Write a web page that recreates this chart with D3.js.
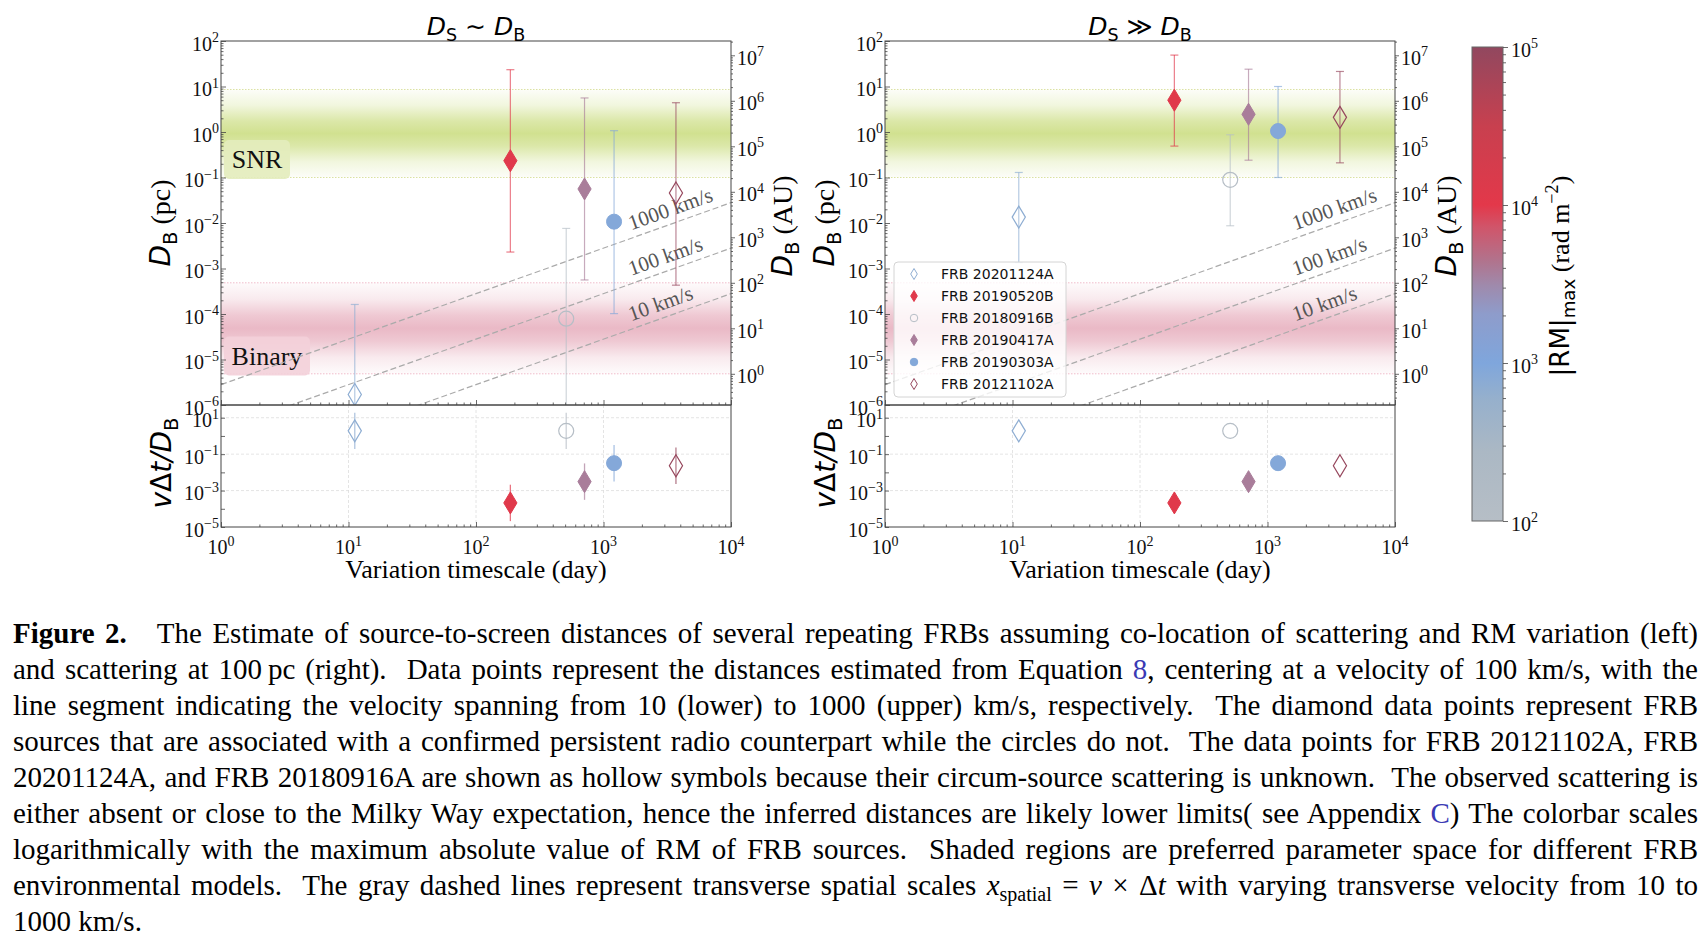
<!DOCTYPE html>
<html>
<head>
<meta charset="utf-8">
<script src="https://cdn.jsdelivr.net/npm/d3@7"></script>
<style>
body { margin: 0; background: #fff; width: 1707px; height: 942px; overflow: hidden; position: relative; }
#fig { position: absolute; left: 0; top: 0; }
#caption { position: absolute; left: 13px; top: 615px; width: 1685px; font-family: "Liberation Serif", "Times New Roman", serif; font-size: 29px; line-height: 36px; color: #000; }
#caption .cl { white-space: nowrap; }
#caption .gap { display: inline-block; width: 30px; }
#caption .lnk { color: #3a3ab4; }
#caption sub { font-size: 20px; line-height: 0; vertical-align: -6px; }
</style>
</head>
<body>
<svg id="fig" width="1707" height="600"></svg>
<div id="caption"></div>
<script>
// FRB sources, in legend order
const frbNames = ["FRB 20201124A", "FRB 20190520B", "FRB 20180916B", "FRB 20190417A", "FRB 20190303A", "FRB 20121102A"];
const frbMarker = ["diamond", "diamond", "circle", "diamond", "circle", "diamond"];
const frbHollow = [true, false, true, false, false, true];
const frbLogRM = [2.85, 4.05, 2.0, 3.58, 2.95, 4.95];     // log10 |RM|max, picks colour on the colorbar
const timescaleDays = [11.2, 186, 510, 710, 1210, 3700];

// D_S ~ D_B : D_B (pc) at 100 km/s, with 10 / 1000 km/s ends
const dbCoLocated   = [1.7e-6, 0.234, 7.9e-5, 0.056, 0.0107, 0.0457];
const dbCoLocatedLo = [1.7e-8, 2.3e-3, 7.9e-7, 5.6e-4, 1.02e-4, 4.3e-4];
const dbCoLocatedHi = [1.62e-4, 23.4, 7.6e-3, 5.6, 1.07, 4.4];

// D_S >> D_B
const dbFarScreen   = [0.0135, 5.0, 0.089, 2.45, 1.05, 2.1];
const dbFarScreenLo = [1.35e-3, 0.49, 8.7e-3, 0.24, 0.1, 0.21];
const dbFarScreenHi = [0.129, 49, 0.87, 24, 10, 21.4];

// v dt / D_B
const ratio   = [1.9, 2.1e-4, 1.9, 3.1e-3, 0.032, 0.023];
const ratioLo = [0.19, 2.1e-5, 0.19, 3.1e-4, 3.2e-3, 2.3e-3];
const ratioHi = [19, 2.1e-3, 19, 0.031, 0.32, 0.23];

// transverse scale lines x = v * dt (pc at 1 day and at 10^4 days)
const velocityLabels = ["10 km/s", "100 km/s", "1000 km/s"];
const velocityD1 = [2.8e-8, 2.8e-7, 2.8e-6];
const velocityD4 = [2.8e-4, 2.8e-3, 2.8e-2];

// shaded model regions (pc)
const bandNames = ["SNR", "Binary"];
const bandLo = [0.1, 4.85e-6];
const bandHi = [8.6, 4.85e-4];

// colorbar
const cmapLogRM = [2.0, 2.44, 2.77, 3.0, 3.31, 3.49, 3.64, 3.86, 4.0, 4.5, 5.0];
const cmapColors = ["#b6bec6", "#abb8c4", "#96b0cc", "#7fa6dc", "#8e9ccb", "#9f8aac", "#b0748e", "#d0556a", "#e3384a", "#c8404f", "#91485f"];

// tick exponents
const xTickExp = [0, 1, 2, 3, 4];
const dbTickExp = [-6, -5, -4, -3, -2, -1, 0, 1, 2];
const auTickExp = [0, 1, 2, 3, 4, 5, 6, 7];
const ratioTickExp = [-5, -3, -1, 1];
const ratioMajorExp = [-5, -4, -3, -2, -1, 0, 1];
const rmTickExp = [2, 3, 4, 5];
const PC_IN_AU = 206265;

const captionLines = [
  '<b>Figure 2.</b><span class="gap"></span>The Estimate of source-to-screen distances of several repeating FRBs assuming co-location of scattering and RM variation (left)',
  'and scattering at 100&#8201;pc (right).&nbsp; Data points represent the distances estimated from Equation <span class="lnk">8</span>, centering at a velocity of 100 km/s, with the',
  'line segment indicating the velocity spanning from 10 (lower) to 1000 (upper) km/s, respectively.&nbsp; The diamond data points represent FRB',
  'sources that are associated with a confirmed persistent radio counterpart while the circles do not.&nbsp; The data points for FRB 20121102A, FRB',
  '20201124A, and FRB 20180916A are shown as hollow symbols because their circum-source scattering is unknown.&nbsp; The observed scattering is',
  'either absent or close to the Milky Way expectation, hence the inferred distances are likely lower limits( see Appendix <span class="lnk">C</span>) The colorbar scales',
  'logarithmically with the maximum absolute value of RM of FRB sources.&nbsp; Shaded regions are preferred parameter space for different FRB',
  'environmental models.&nbsp; The gray dashed lines represent transverse spatial scales <i>x</i><sub>spatial</sub> = <i>v</i> &times; &Delta;<i>t</i> with varying transverse velocity from 10 to',
  '1000 km/s.'
];

const serif = "'Liberation Serif', 'Times New Roman', serif";
const sans = "'DejaVu Sans', Verdana, sans-serif";
const axisColor = "#444";
const tickFont = 20;
const svg = d3.select("#fig");
const defs = svg.append("defs");

const cmap = d3.scaleLinear().domain(cmapLogRM).range(cmapColors).interpolate(d3.interpolateRgb);
const frbColor = frbLogRM.map(l => cmap(l));

// vertical layout shared by both panels
const yUpper = d3.scaleLog().domain([1e-6, 1e2]).range([405, 41]);
const yAU = d3.scaleLog().domain([1e-6 * PC_IN_AU, 1e2 * PC_IN_AU]).range([405, 41]);
const yLower = d3.scaleLog().domain([1e-5, 50]).range([527, 405]);

// text made of pieces: italic / subscript / superscript / serif
function addMath(textSel, parts, size) {
  let shift = 0;
  parts.forEach(p => {
    const ts = textSel.append("tspan").text(p.t)
      .attr("font-size", (p.sub || p.sup) ? size * 0.7 : size)
      .attr("font-family", p.serif ? serif : sans);
    if (p.it) ts.attr("font-style", "italic");
    const target = p.sub ? size * 0.24 : p.sup ? -size * 0.42 : 0;
    if (target !== shift) { ts.attr("dy", target - shift); shift = target; }
  });
  return textSel;
}
function powParts(e) {
  return [{ t: "10", serif: 1 }, { t: e < 0 ? "\u2212" + (-e) : String(e), sup: 1, serif: 1 }];
}
function minorTicks(lo, hi) {
  const out = [];
  for (let k = Math.floor(Math.log10(lo)); k <= Math.ceil(Math.log10(hi)); k++)
    for (let m = 2; m <= 9; m++) {
      const v = m * Math.pow(10, k);
      if (v >= lo && v <= hi) out.push(v);
    }
  return out;
}
function tickMarks(g, orient, scale, values, len, transform) {
  g.append("g").attr("transform", transform)
    .call(orient(scale).tickValues(values).tickSizeInner(len).tickSizeOuter(0).tickFormat(() => ""))
    .call(s => s.select(".domain").remove())
    .call(s => s.selectAll("text").remove())
    .selectAll("line").attr("stroke", axisColor).attr("stroke-width", 0.8);
}
function markerPath(type, h) {
  if (type === "circle") {
    const r = h / 2;
    return `M${r},0A${r},${r} 0 1,1 ${-r},0A${r},${r} 0 1,1 ${r},0Z`;
  }
  const w = h * 0.6;
  return `M0,${-h / 2}L${w / 2},0L0,${h / 2}L${-w / 2},0Z`;
}
function markerSize(type) { return type === "circle" ? 15 : 22; }

// band gradients
function bandGradient(id, color) {
  const grad = defs.append("linearGradient").attr("id", id)
    .attr("x1", 0).attr("y1", 0).attr("x2", 0).attr("y2", 1);
  [[0, 0.06], [0.18, 0.3], [0.36, 0.78], [0.5, 1], [0.64, 0.78], [0.82, 0.3], [1, 0.06]].forEach(([o, a]) =>
    grad.append("stop").attr("offset", o).attr("stop-color", color).attr("stop-opacity", a));
}
bandGradient("band-snr", "#d1e190");
bandGradient("band-bin", "#eab9c6");
const bandFill = ["url(#band-snr)", "url(#band-bin)"];
const bandEdge = ["#dbe2a2", "#f0bccb"];
const bandBox = ["#e3ecbd", "#f3d0d9"];

const panels = [
  { x0: 221, x1: 731, rel: "\u223C", db: dbCoLocated, lo: dbCoLocatedLo, hi: dbCoLocatedHi, ratioBars: true, bandLabels: true, legend: false },
  { x0: 885, x1: 1395, rel: "\u226B", db: dbFarScreen, lo: dbFarScreenLo, hi: dbFarScreenHi, ratioBars: false, bandLabels: false, legend: true }
];

panels.forEach((p, pi) => {
  const x = d3.scaleLog().domain([1, 1e4]).range([p.x0, p.x1]);
  const g = svg.append("g");
  const cx = (p.x0 + p.x1) / 2;

  const clipId = "clip-up-" + pi;
  defs.append("clipPath").attr("id", clipId).append("rect")
    .attr("x", p.x0).attr("y", yUpper(1e2)).attr("width", p.x1 - p.x0).attr("height", yUpper(1e-6) - yUpper(1e2));
  const up = g.append("g").attr("clip-path", `url(#${clipId})`);

  // shaded regions
  bandNames.forEach((name, i) => {
    up.append("rect").attr("x", p.x0).attr("width", p.x1 - p.x0)
      .attr("y", yUpper(bandHi[i])).attr("height", yUpper(bandLo[i]) - yUpper(bandHi[i]))
      .attr("fill", bandFill[i]);
    [bandLo[i], bandHi[i]].forEach(v => up.append("line")
      .attr("x1", p.x0).attr("x2", p.x1).attr("y1", yUpper(v)).attr("y2", yUpper(v))
      .attr("stroke", bandEdge[i]).attr("stroke-width", 1).attr("stroke-dasharray", "1.5,1.5"));
  });
  if (p.bandLabels) {
    const labelAt = [0.243, 1.16e-5];
    const boxW = [66, 86];
    bandNames.forEach((name, i) => {
      const yc = yUpper(labelAt[i]);
      up.append("rect").attr("x", p.x0 + 3).attr("y", yc - 20).attr("width", boxW[i]).attr("height", 39)
        .attr("rx", 5).attr("fill", bandBox[i]).attr("opacity", 0.9);
      up.append("text").attr("x", p.x0 + 3 + boxW[i] / 2).attr("y", yc + 8)
        .attr("text-anchor", "middle").attr("font-family", serif).attr("font-size", 26).attr("fill", "#111")
        .text(name);
    });
  }

  // transverse scale lines
  velocityLabels.forEach((lab, i) => {
    const xa = x(1), xb = x(1e4), ya = yUpper(velocityD1[i]), yb = yUpper(velocityD4[i]);
    up.append("line").attr("x1", xa).attr("y1", ya).attr("x2", xb).attr("y2", yb)
      .attr("stroke", "#aaa").attr("stroke-width", 1.2).attr("stroke-dasharray", "6,3");
    const tLab = 1650;
    const f = Math.log10(tLab) / 4;
    const dLab = velocityD1[i] * Math.pow(velocityD4[i] / velocityD1[i], f);
    const ang = Math.atan2(yb - ya, xb - xa) * 180 / Math.PI;
    up.append("text").attr("transform", `translate(${x(tLab)},${yUpper(dLab) - 8}) rotate(${ang})`)
      .attr("font-family", serif).attr("font-size", 21).attr("fill", "#555").text(lab);
  });

  // lower grid
  const low = g.append("g");
  [10, 100, 1000].forEach(v => low.append("line").attr("x1", x(v)).attr("x2", x(v))
    .attr("y1", yLower(50)).attr("y2", yLower(1e-5))
    .attr("stroke", "#ddd").attr("stroke-width", 0.8).attr("stroke-dasharray", "3,2"));
  [10, 0.1, 1e-3].forEach(v => low.append("line").attr("x1", p.x0).attr("x2", p.x1)
    .attr("y1", yLower(v)).attr("y2", yLower(v))
    .attr("stroke", "#ddd").attr("stroke-width", 0.8).attr("stroke-dasharray", "3,2"));

  // points with error bars
  frbNames.forEach((name, i) => {
    const col = frbColor[i];
    const px = x(timescaleDays[i]);
    const yHi = yUpper(p.hi[i]), yLo = yUpper(p.lo[i]);
    const bar = up.append("g").attr("stroke", col).attr("stroke-opacity", 0.65).attr("stroke-width", 1.2);
    bar.append("line").attr("x1", px).attr("x2", px).attr("y1", yHi).attr("y2", yLo);
    [yHi, yLo].forEach(yy => bar.append("line").attr("x1", px - 4).attr("x2", px + 4).attr("y1", yy).attr("y2", yy));
    up.append("path").attr("transform", `translate(${px},${yUpper(p.db[i])})`)
      .attr("d", markerPath(frbMarker[i], markerSize(frbMarker[i])))
      .attr("fill", frbHollow[i] ? "none" : col).attr("stroke", col).attr("stroke-width", frbHollow[i] ? 1.2 : 1);

    if (p.ratioBars) {
      low.append("line").attr("x1", px).attr("x2", px).attr("y1", yLower(ratioHi[i])).attr("y2", yLower(ratioLo[i]))
        .attr("stroke", col).attr("stroke-opacity", 0.7).attr("stroke-width", 1.3);
    }
    low.append("path").attr("transform", `translate(${px},${yLower(ratio[i])})`)
      .attr("d", markerPath(frbMarker[i], markerSize(frbMarker[i])))
      .attr("fill", frbHollow[i] ? "none" : col).attr("stroke", col).attr("stroke-width", frbHollow[i] ? 1.2 : 1);
  });

  // frames
  [[yUpper(1e2), yUpper(1e-6)], [yLower(50), yLower(1e-5)]].forEach(([t, b]) =>
    g.append("rect").attr("x", p.x0).attr("y", t).attr("width", p.x1 - p.x0).attr("height", b - t)
      .attr("fill", "none").attr("stroke", axisColor).attr("stroke-width", 1));

  // ticks
  const xMajor = xTickExp.map(e => Math.pow(10, e));
  const xMinor = minorTicks(1, 1e4);
  tickMarks(g, d3.axisBottom, x, xMajor, -5, `translate(0,${yUpper(1e-6)})`);
  tickMarks(g, d3.axisBottom, x, xMinor, -2.5, `translate(0,${yUpper(1e-6)})`);
  tickMarks(g, d3.axisBottom, x, xMajor, -5, `translate(0,${yLower(1e-5)})`);
  tickMarks(g, d3.axisBottom, x, xMinor, -2.5, `translate(0,${yLower(1e-5)})`);
  tickMarks(g, d3.axisLeft, yUpper, dbTickExp.map(e => Math.pow(10, e)), -5, `translate(${p.x0},0)`);
  tickMarks(g, d3.axisLeft, yUpper, minorTicks(1e-6, 1e2), -2.5, `translate(${p.x0},0)`);
  tickMarks(g, d3.axisRight, yAU, auTickExp.map(e => Math.pow(10, e)), 4, `translate(${p.x1},0)`);
  tickMarks(g, d3.axisRight, yAU, minorTicks(yAU.domain()[0], yAU.domain()[1]), 2, `translate(${p.x1},0)`);
  tickMarks(g, d3.axisLeft, yLower, ratioMajorExp.map(e => Math.pow(10, e)), -4, `translate(${p.x0},0)`);

  // tick labels
  const lab = g.append("g").attr("fill", "#111");
  const dyLab = 9.5;
  dbTickExp.forEach(e => addMath(lab.append("text").attr("x", p.x0 - 2).attr("y", yUpper(Math.pow(10, e)) + dyLab)
    .attr("text-anchor", "end"), powParts(e), tickFont));
  ratioTickExp.forEach(e => addMath(lab.append("text").attr("x", p.x0 - 2).attr("y", yLower(Math.pow(10, e)) + dyLab)
    .attr("text-anchor", "end"), powParts(e), tickFont));
  auTickExp.forEach(e => addMath(lab.append("text").attr("x", p.x1 + 6).attr("y", yAU(Math.pow(10, e)) + dyLab)
    .attr("text-anchor", "start"), powParts(e), tickFont));
  xTickExp.forEach(e => addMath(lab.append("text").attr("x", x(Math.pow(10, e))).attr("y", yLower(1e-5) + 27)
    .attr("text-anchor", "middle"), powParts(e), tickFont));

  // axis labels and title
  addMath(g.append("text").attr("x", cx).attr("y", 35).attr("text-anchor", "middle"),
    [{ t: "D", it: 1 }, { t: "S", sub: 1 }, { t: " " + p.rel + " " }, { t: "D", it: 1 }, { t: "B", sub: 1 }], 25);
  addMath(g.append("text").attr("x", cx).attr("y", 578).attr("text-anchor", "middle"),
    [{ t: "Variation timescale (day)", serif: 1 }], 26);
  addMath(g.append("text").attr("transform", `translate(${p.x0 - 51},${(yUpper(1e2) + yUpper(1e-6)) / 2}) rotate(-90)`)
    .attr("text-anchor", "middle"), [{ t: "D", it: 1 }, { t: "B", sub: 1 }, { t: " (pc)", serif: 1 }], 28);
  addMath(g.append("text").attr("transform", `translate(${p.x0 - 50},${(yLower(50) + yLower(1e-5)) / 2 - 3}) rotate(-90)`)
    .attr("text-anchor", "middle"),
    [{ t: "v", it: 1 }, { t: "\u0394" }, { t: "t/", it: 1 }, { t: "D", it: 1 }, { t: "B", sub: 1 }], 28);
  addMath(g.append("text").attr("transform", `translate(${p.x1 + 61},${(yUpper(1e2) + yUpper(1e-6)) / 2 + 3}) rotate(-90)`)
    .attr("text-anchor", "middle"), [{ t: "D", it: 1 }, { t: "B", sub: 1 }, { t: " (AU)", serif: 1 }], 28);

  // legend
  if (p.legend) {
    const lg = g.append("g");
    lg.append("rect").attr("x", p.x0 + 9).attr("y", 262).attr("width", 172).attr("height", 135).attr("rx", 4)
      .attr("fill", "#fff").attr("fill-opacity", 0.8).attr("stroke", "#d4d4d4");
    frbNames.forEach((name, i) => {
      const ly = 274 + i * 22;
      const h = frbMarker[i] === "circle" ? 7.5 : 11;
      lg.append("path").attr("transform", `translate(${p.x0 + 29},${ly})`)
        .attr("d", markerPath(frbMarker[i], h))
        .attr("fill", frbHollow[i] ? "none" : frbColor[i]).attr("stroke", frbColor[i]).attr("stroke-width", 1);
      lg.append("text").attr("x", p.x0 + 56).attr("y", ly + 5).attr("font-family", sans).attr("font-size", 14)
        .attr("fill", "#111").text(name);
    });
  }
});

// colorbar
const cb = { x0: 1472, x1: 1503 };
const yRM = d3.scaleLog().domain([1e2, 1e5]).range([521, 47]);
const cbGrad = defs.append("linearGradient").attr("id", "cbar").attr("x1", 0).attr("y1", 1).attr("x2", 0).attr("y2", 0);
cmapLogRM.forEach((l, i) => cbGrad.append("stop").attr("offset", (l - 2) / 3).attr("stop-color", cmapColors[i]));
const cbg = svg.append("g");
cbg.append("rect").attr("x", cb.x0).attr("y", yRM(1e5)).attr("width", cb.x1 - cb.x0).attr("height", yRM(1e2) - yRM(1e5))
  .attr("fill", "url(#cbar)").attr("stroke", "#666").attr("stroke-width", 1);
tickMarks(cbg, d3.axisRight, yRM, rmTickExp.map(e => Math.pow(10, e)), 5, `translate(${cb.x1},0)`);
tickMarks(cbg, d3.axisRight, yRM, minorTicks(1e2, 1e5), 3, `translate(${cb.x1},0)`);
rmTickExp.forEach(e => addMath(cbg.append("text").attr("x", cb.x1 + 8).attr("y", yRM(Math.pow(10, e)) + 9.5)
  .attr("fill", "#111"), powParts(e), tickFont));
addMath(cbg.append("text").attr("transform", `translate(${cb.x1 + 66},276) rotate(-90)`).attr("text-anchor", "middle"),
  [{ t: "|RM|" }, { t: "max", sub: 1 }, { t: " (rad m", serif: 1 }, { t: "\u22122", sup: 1, serif: 1 }, { t: ")", serif: 1 }], 26);

// caption, each line justified to the full width
const capWidth = 1685;
const cap = d3.select("#caption");
captionLines.forEach((html, i) => {
  const div = cap.append("div").attr("class", "cl");
  const span = div.append("span").html(html);
  if (i < captionLines.length - 1) {
    const natural = span.node().getBoundingClientRect().width;
    const spaces = (span.node().textContent.match(/[ \u00a0]/g) || []).length;
    div.style("word-spacing", ((capWidth - natural) / spaces) + "px");
  }
});
</script>
</body>
</html>
